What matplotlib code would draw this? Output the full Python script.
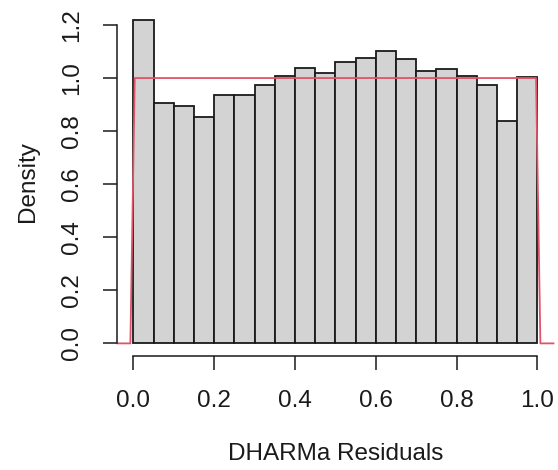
import numpy as np
import matplotlib
matplotlib.use("Agg")
import matplotlib.pyplot as plt

plt.rcParams['font.family'] = ['Liberation Sans', 'DejaVu Sans']

# histogram of DHARMa residuals, 20 bins of width 0.05 (density scale)
bin_edges = [0.00, 0.05, 0.10, 0.15, 0.20, 0.25, 0.30, 0.35, 0.40, 0.45, 0.50,
             0.55, 0.60, 0.65, 0.70, 0.75, 0.80, 0.85, 0.90, 0.95, 1.00]
density = [1.219, 0.906, 0.895, 0.853, 0.936, 0.937, 0.974, 1.008, 1.036, 1.018,
           1.062, 1.075, 1.103, 1.071, 1.028, 1.035, 1.009, 0.972, 0.838, 1.003]
x_ticks = [0.0, 0.2, 0.4, 0.6, 0.8, 1.0]
y_ticks = [0.0, 0.2, 0.4, 0.6, 0.8, 1.0, 1.2]

fig = plt.figure(figsize=(5.58, 4.70), dpi=100)
ax = fig.add_axes([0.2102, 0.2419, 0.7817, 0.7432])

lefts = np.array(bin_edges[:-1])
widths = np.diff(bin_edges)
ax.bar(lefts, density, width=widths, align='edge', color='#D3D3D3',
       edgecolor='#1a1a1a', linewidth=1.3)

# R-style plot range: 4% padding
xlim = (bin_edges[0] - 0.04 * (bin_edges[-1] - bin_edges[0]),
        bin_edges[-1] + 0.04 * (bin_edges[-1] - bin_edges[0]))
ymax = max(density)
ax.set_xlim(*xlim)
ax.set_ylim(-0.04 * ymax, 1.04 * ymax)

# uniform density curve, like curve(dunif, add=TRUE) with n=101
xs = np.linspace(xlim[0], xlim[1], 101)
ys = np.where((xs >= 0) & (xs <= 1), 1.0, 0.0)
ax.plot(xs, ys, color='#DF536B', linewidth=1.3, clip_on=False)

for s in ['top', 'right']:
    ax.spines[s].set_visible(False)
ax.spines['left'].set_bounds(y_ticks[0], y_ticks[-1])
ax.spines['bottom'].set_bounds(x_ticks[0], x_ticks[-1])
for s in ['left', 'bottom']:
    ax.spines[s].set_linewidth(1.1)
    ax.spines[s].set_color('#1a1a1a')

ax.set_xticks(x_ticks)
ax.set_xticklabels([f"{v:.1f}" for v in x_ticks])
ax.set_yticks(y_ticks)
ax.set_yticklabels([f"{v:.1f}" for v in y_ticks], rotation=90, va='center')
ax.tick_params(axis='both', length=10.4, width=1.1, color='#1a1a1a',
               labelsize=17.5, labelcolor='#1a1a1a')
ax.tick_params(axis='x', pad=14)
ax.tick_params(axis='y', pad=14)

ax.set_xlabel('DHARMa Residuals', fontsize=17.5, color='#1a1a1a', labelpad=22)
ax.set_ylabel('Density', fontsize=17.5, color='#1a1a1a', labelpad=16)

fig.savefig('out.png', dpi=100)
